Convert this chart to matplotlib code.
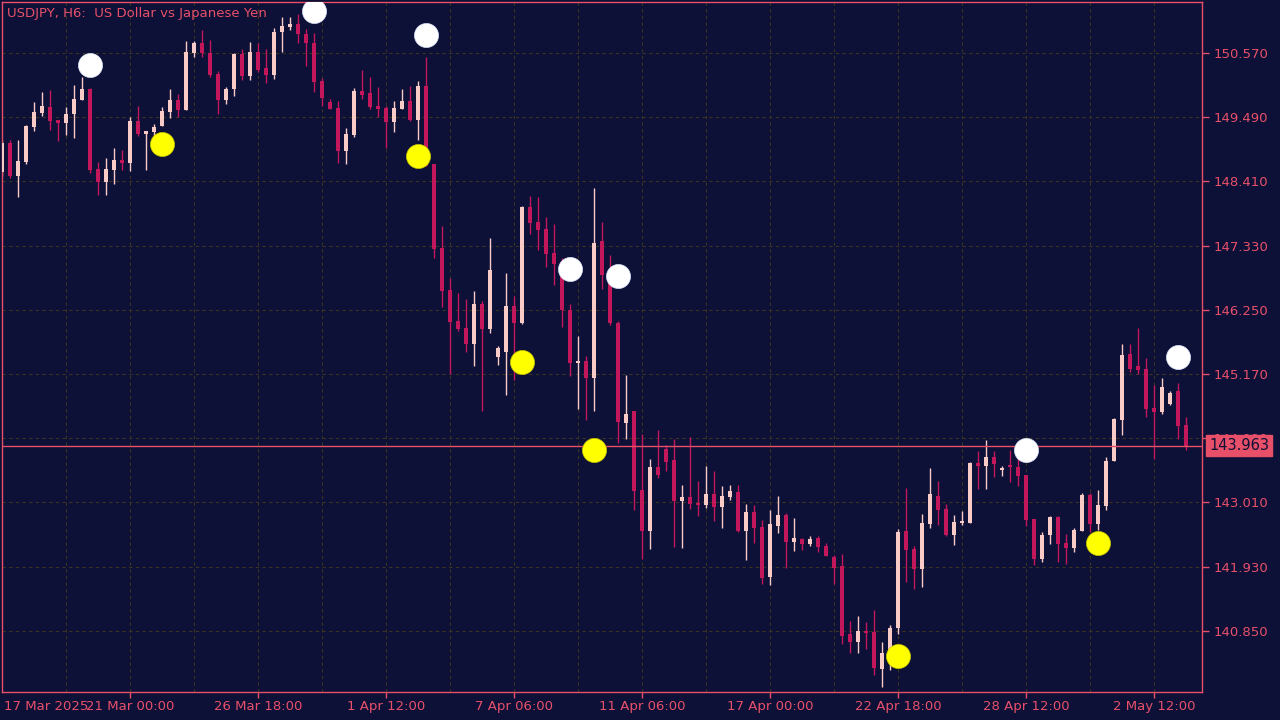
import matplotlib

matplotlib.use("Agg")
import matplotlib.pyplot as plt
import numpy as np

# H6 candles, USDJPY, 17 Mar 2025 .. 2 May 2025
opens = [148.57, 149.06, 148.50, 148.74, 149.33, 149.56, 149.66, 149.44, 149.39, 149.54,
         149.78, 149.96, 148.62, 148.40, 148.60, 148.77, 148.72, 149.43, 149.21, 149.24,
         149.34, 149.58, 149.78, 149.61, 150.57, 150.74, 150.57, 150.22, 149.78, 149.96,
         150.55, 150.18, 150.59, 150.32, 150.20, 150.92, 151.01, 151.06, 150.89, 150.74,
         150.10, 149.75, 149.64, 148.92, 149.19, 149.93, 149.90, 149.68, 149.64, 149.41,
         149.63, 149.76, 149.44, 150.01, 148.70, 147.29, 146.59, 146.06, 145.95, 145.68,
         146.35, 145.93, 145.46, 145.54, 146.32, 146.03, 147.98, 147.73, 147.61, 147.21,
         147.05, 146.25, 145.36, 145.39, 145.10, 147.41, 146.85, 146.03, 144.35, 144.55,
         143.22, 142.53, 143.61, 143.91, 143.72, 143.04, 143.10, 143.00, 142.97, 143.15,
         142.93, 143.10, 143.19, 142.53, 142.85, 142.60, 141.76, 142.62, 142.80, 142.35,
         142.40, 142.31, 142.41, 142.28, 142.09, 141.94, 140.80, 140.66, 140.83, 140.83,
         140.21, 140.48, 140.90, 142.53, 142.23, 141.89, 142.65, 143.12, 142.90, 142.46,
         142.67, 142.67, 143.68, 143.62, 143.77, 143.56, 143.62, 143.61, 143.47, 142.73,
         142.06, 142.46, 142.77, 142.33, 142.25, 142.53, 143.14, 142.65, 142.95, 143.71,
         144.40, 145.51, 145.31, 145.26, 144.60, 144.53, 144.67, 144.89, 144.31]
highs = [149.11, 149.11, 149.11, 149.36, 149.75, 149.91, 149.95, 149.44, 149.66, 150.03,
         150.17, 149.98, 148.74, 148.80, 148.97, 148.94, 149.49, 149.68, 149.26, 149.38,
         149.66, 149.96, 149.88, 150.77, 150.77, 150.96, 150.79, 150.27, 150.00, 150.57,
         150.64, 150.75, 150.74, 150.64, 150.99, 151.18, 151.18, 151.23, 150.97, 150.91,
         150.15, 149.80, 149.76, 149.31, 149.98, 150.28, 150.17, 150.00, 149.68, 149.76,
         149.96, 150.01, 150.10, 150.50, 148.70, 147.66, 146.79, 146.53, 146.43, 146.57,
         146.40, 147.46, 145.64, 146.87, 146.48, 148.00, 148.17, 148.15, 147.81, 147.70,
         147.12, 146.35, 145.81, 145.47, 148.30, 147.73, 147.17, 146.06, 145.16, 144.55,
         144.16, 143.74, 144.23, 143.98, 144.08, 143.31, 144.11, 143.37, 143.62, 143.54,
         143.29, 143.31, 143.31, 142.99, 142.97, 142.72, 142.88, 143.12, 142.84, 142.75,
         142.41, 142.45, 142.45, 142.33, 142.13, 142.14, 141.02, 141.10, 141.00, 141.20,
         140.66, 140.95, 142.56, 143.25, 142.28, 142.82, 143.59, 143.37, 142.99, 142.80,
         142.87, 143.69, 143.88, 144.06, 143.88, 143.62, 143.89, 143.81, 143.47, 142.73,
         142.52, 142.78, 142.78, 142.48, 142.58, 143.17, 143.17, 143.22, 143.77, 144.43,
         145.68, 145.68, 145.95, 145.44, 144.99, 145.10, 144.89, 145.02, 144.45]
lows = [148.50, 148.47, 148.15, 148.70, 149.26, 149.51, 149.28, 149.09, 149.19, 149.14,
        149.78, 148.55, 148.18, 148.18, 148.37, 148.60, 148.58, 149.17, 148.60, 149.16,
        149.34, 149.48, 149.49, 149.61, 150.50, 150.50, 150.17, 149.54, 149.71, 149.85,
        150.12, 150.12, 150.25, 150.07, 150.13, 150.59, 150.96, 150.74, 150.35, 149.91,
        149.68, 149.63, 148.72, 148.70, 149.16, 149.80, 149.63, 149.49, 148.97, 149.24,
        149.63, 149.43, 149.11, 148.67, 147.12, 146.30, 145.17, 145.90, 145.54, 145.30,
        144.55, 145.86, 145.32, 144.82, 145.07, 146.01, 147.53, 147.26, 146.97, 146.67,
        145.96, 145.14, 144.58, 144.40, 144.55, 146.60, 145.99, 144.01, 144.08, 142.88,
        142.06, 142.23, 143.42, 143.54, 142.26, 142.25, 142.90, 142.78, 142.92, 142.70,
        142.58, 143.05, 142.52, 142.04, 142.33, 141.64, 141.62, 142.50, 141.91, 142.20,
        142.21, 142.28, 142.18, 142.11, 141.64, 140.63, 140.48, 140.48, 140.55, 140.11,
        139.91, 140.19, 140.80, 141.67, 141.56, 141.59, 142.58, 142.63, 142.45, 142.30,
        142.63, 142.67, 143.24, 143.24, 143.44, 143.46, 143.36, 143.29, 142.62, 141.96,
        142.01, 142.31, 142.01, 141.98, 142.18, 142.53, 142.52, 142.55, 142.88, 143.71,
        144.15, 145.20, 145.17, 144.45, 143.74, 144.50, 144.65, 144.08, 143.89]
closes = [149.06, 148.50, 148.75, 149.34, 149.58, 149.68, 149.43, 149.39, 149.54, 149.80,
          149.96, 148.60, 148.40, 148.62, 148.77, 148.72, 149.43, 149.21, 149.26, 149.33,
          149.60, 149.78, 149.61, 150.59, 150.74, 150.57, 150.20, 149.78, 149.96, 150.55,
          150.18, 150.59, 150.28, 150.20, 150.92, 151.02, 151.06, 150.89, 150.74, 150.08,
          149.81, 149.63, 148.92, 149.21, 149.93, 149.86, 149.66, 149.63, 149.41, 149.64,
          149.76, 149.44, 150.01, 148.67, 147.27, 146.57, 146.05, 145.93, 145.68, 146.35,
          145.93, 146.92, 145.61, 146.32, 146.03, 147.98, 147.71, 147.59, 147.19, 147.02,
          146.25, 145.36, 145.39, 145.10, 147.38, 146.84, 146.03, 144.36, 144.50, 143.20,
          142.53, 143.61, 143.47, 143.69, 143.04, 143.10, 142.98, 142.97, 143.15, 142.93,
          143.12, 143.20, 142.53, 142.85, 142.58, 141.74, 142.65, 142.80, 142.35, 142.41,
          142.31, 142.40, 142.26, 142.11, 141.91, 140.77, 140.66, 140.85, 140.82, 140.23,
          140.48, 140.90, 142.51, 142.21, 141.89, 142.67, 143.15, 142.88, 142.46, 142.68,
          142.68, 143.68, 143.62, 143.77, 143.66, 143.57, 143.61, 143.46, 142.72, 142.06,
          142.46, 142.77, 142.31, 142.25, 142.55, 143.14, 142.65, 142.97, 143.71, 144.42,
          145.49, 145.26, 145.24, 144.58, 144.53, 144.95, 144.85, 144.30, 143.963]

# signal dots: (candle index, price)
upper_idx = [11, 39, 53, 71, 77, 128, 147]
upper_price = [150.37, 151.28, 150.87, 146.94, 146.82, 143.89, 145.46]
lower_idx = [20, 52, 65, 74, 112, 137]
lower_price = [149.04, 148.84, 145.37, 143.89, 140.43, 142.33]

price_ticks = [150.570, 149.490, 148.410, 147.330, 146.250, 145.170, 144.090, 143.010, 141.930, 140.850]
date_idx = [16, 32, 48, 64, 80, 96, 112, 128, 144]
date_labels = ["21 Mar 00:00", "26 Mar 18:00", "1 Apr 12:00", "7 Apr 06:00", "11 Apr 06:00",
               "17 Apr 00:00", "22 Apr 18:00", "28 Apr 12:00", "2 May 12:00"]
first_label = "17 Mar 2025"
title = "USDJPY, H6:  US Dollar vs Japanese Yen"

BG = "#0d1037"
FG = "#e8506a"
BULL = "#f9cbc6"
BEAR = "#c2185b"
GRID = "#3a3420"

fig = plt.figure(figsize=(12.8, 7.2), dpi=100, facecolor=BG)
ax = fig.add_axes([2 / 1280, 28 / 720, 1200 / 1280, 690 / 720], facecolor=BG)

o = np.array(opens)
h = np.array(highs)
l = np.array(lows)
c = np.array(closes)
x = np.arange(len(o))
colors = np.where(c >= o, BULL, BEAR)

ax.vlines(x, l, h, colors=colors, linewidth=1.0, zorder=2)
bottom = np.minimum(o, c)
height = np.maximum(np.abs(c - o), 0.03)
ax.bar(x, height, bottom=bottom, width=0.62, color=colors, linewidth=0, zorder=3)

ax.scatter(upper_idx, upper_price, s=300, color="white", edgecolors="#dfe8ff", linewidths=0.5, zorder=5)
ax.scatter(lower_idx, lower_price, s=300, color="#ffff00", edgecolors="#c8c800", linewidths=0.5, zorder=5)

ax.set_xlim(0, 150)
ax.set_ylim(139.82, 151.43)

# grid
for gx in np.arange(8, 150, 8):
    ax.axvline(gx, color=GRID, linestyle=(0, (3, 3)), linewidth=0.8, zorder=1)
for gy in price_ticks:
    ax.axhline(gy, color=GRID, linestyle=(0, (3, 3)), linewidth=0.8, zorder=1)

last = closes[-1]
ax.axhline(last, color=FG, linewidth=1.0, zorder=4)

for side in ["left", "top", "right", "bottom"]:
    ax.spines[side].set_color(FG)
    ax.spines[side].set_linewidth(1.0)

ax.yaxis.tick_right()
ax.set_yticks(price_ticks)
ax.set_yticklabels([f"{v:.3f}" for v in price_ticks])
ax.tick_params(axis="y", colors=FG, labelcolor=FG, length=5, width=1, labelsize=9.5, pad=3)
ax.set_xticks(date_idx)
ax.set_xticklabels(date_labels)
ax.tick_params(axis="x", colors=FG, labelcolor=FG, length=4, width=1, labelsize=9.5, pad=2)

fig.text(4 / 1280, 1 - 706 / 720, first_label, color=FG, fontsize=9.5, ha="left", va="center")
fig.text(7 / 1280, 1 - 13 / 720, title, color=FG, fontsize=9.5, ha="left", va="center")

# current price label drawn on the figure so it covers the tick label under it
y_last = ax.transData.transform((0, last))[1] / 720
fig.text(1209 / 1280, y_last, f"{last:.3f}", color=BG, fontsize=10.5, ha="left", va="center",
         bbox=dict(boxstyle="square,pad=0.2", facecolor=FG, edgecolor=FG), zorder=10)

fig.savefig("out.png", dpi=100, facecolor=BG)
